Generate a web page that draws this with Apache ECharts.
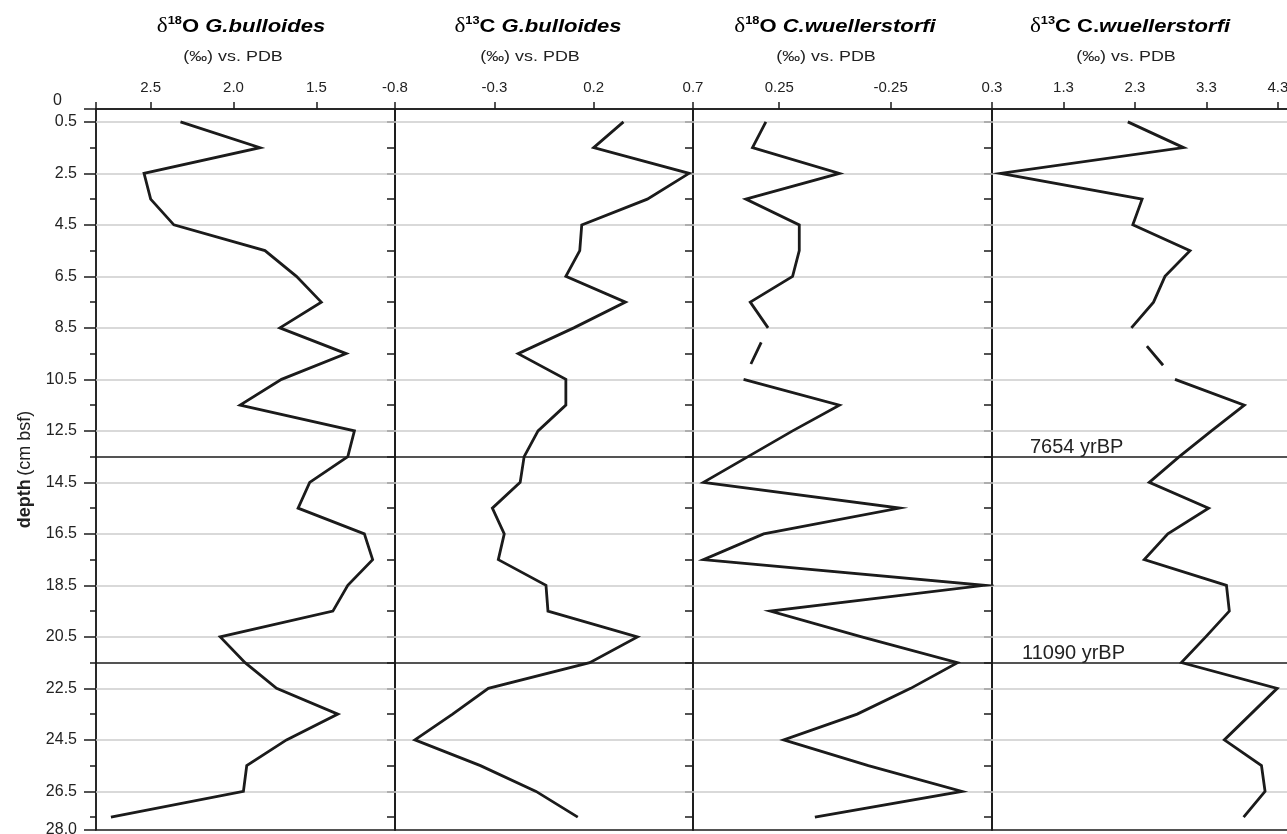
<!DOCTYPE html>
<html>
<head>
<meta charset="utf-8">
<script src="https://cdn.jsdelivr.net/npm/echarts@6/dist/echarts.min.js"></script>
<style>
  html, body { margin: 0; padding: 0; background: #ffffff; }
  #chart { width: 1287px; height: 834px; }
</style>
</head>
<body>
<div id="chart"></div>
<script>
// Sample depths (cm below sea floor)
const depths = [0.5, 1.5, 2.5, 3.5, 4.5, 5.5, 6.5, 7.5, 8.5, 9.5, 10.5, 11.5, 12.5, 13.5,
                14.5, 15.5, 16.5, 17.5, 18.5, 19.5, 20.5, 21.5, 22.5, 23.5, 24.5, 25.5, 26.5, 27.5];

// Isotope records (‰ vs. PDB); null = no measurement
const d18O_bulloides = [2.32, 1.84, 2.54, 2.50, 2.36, 1.81, 1.62, 1.47, 1.72, 1.32, 1.71, 1.96, 1.27, 1.31,
                        1.54, 1.61, 1.21, 1.16, 1.31, 1.40, 2.08, 1.93, 1.74, 1.37, 1.68, 1.92, 1.94, 2.74];
const d13C_bulloides = [0.35, 0.20, 0.68, 0.47, 0.14, 0.13, 0.06, 0.36, 0.10, -0.18, 0.06, 0.06, -0.08, -0.15,
                        -0.17, -0.31, -0.25, -0.28, -0.04, -0.03, 0.42, 0.18, -0.33, -0.51, -0.70, -0.37, -0.09, 0.12];
const d18O_wuellerstorfi = [0.31, 0.37, -0.02, 0.40, 0.16, 0.16, 0.19, 0.38, 0.30, null, 0.41, -0.02, 0.19, 0.39,
                            0.59, -0.29, 0.32, 0.59, -0.67, 0.29, -0.12, -0.55, -0.34, -0.10, 0.23, -0.15, -0.57, 0.09];
const d13C_wuellerstorfi = [2.20, 2.98, 0.42, 2.40, 2.27, 3.07, 2.72, 2.56, 2.25, null, 2.86, 3.83, 3.37, 2.92,
                            2.50, 3.33, 2.76, 2.43, 3.58, 3.62, 3.29, 2.95, 4.29, 3.92, 3.55, 4.07, 4.12, 3.82];

// Depth axis labels and ticks
const depthTop = [0];
const depthLabels = [0.5, 2.5, 4.5, 6.5, 8.5, 10.5, 12.5, 14.5, 16.5, 18.5, 20.5, 22.5, 24.5, 26.5, 28];
const depthMinorTicks = [1.5, 3.5, 5.5, 7.5, 9.5, 11.5, 13.5, 15.5, 17.5, 19.5, 21.5, 23.5, 25.5, 27.5];
const gridDepths = [0.5, 2.5, 4.5, 6.5, 8.5, 10.5, 12.5, 14.5, 16.5, 18.5, 20.5, 22.5, 24.5, 26.5];

// Dated horizons
const horizonDepths = [13.5, 21.5];
const horizonLabels = ['7654 yrBP', '11090 yrBP'];

// Isotope axis tick labels
const ticksO18bull = [2.5, 2.0, 1.5];
const ticksC13bull = [-0.8, -0.3, 0.2, 0.7];
const ticksO18wuel = [0.25, -0.25];
const ticksC13wuel = [0.3, 1.3, 2.3, 3.3, 4.3];

const FONT = 'Liberation Sans, Arial, sans-serif';
const INK = '#1b1b1b';

// Panel layout (pixels) and axis ranges
const panels = [
  { values: d18O_bulloides, left: 96, right: 395, min: 1.025, max: 2.83, inverse: true, ticks: ticksO18bull, dec: 1,
    title: '{d|δ}{s|18}{b|O }{i|G.bulloides}', titleX: 241, subX: 233, dash: null },
  { values: d13C_bulloides, left: 395, right: 693, min: -0.8, max: 0.7, inverse: false, ticks: ticksC13bull, dec: 1,
    title: '{d|δ}{s|13}{b|C }{i|G.bulloides}', titleX: 538, subX: 530, dash: null },
  { values: d18O_wuellerstorfi, left: 693, right: 992, min: -0.705, max: 0.637, inverse: true, ticks: ticksO18wuel, dec: 2,
    title: '{d|δ}{s|18}{b|O }{i|C.wuellerstorfi}', titleX: 835, subX: 826, dash: [0, 16, 24, 200] },
  { values: d13C_wuellerstorfi, left: 992, right: 1289, min: 0.3, max: 4.455, inverse: false, ticks: ticksC13wuel, dec: 1,
    title: '{d|δ}{s|13}{b|C C.}{i|wuellerstorfi}', titleX: 1130, subX: 1126, dash: [0, 24, 25, 200] }
];

const TOP = 109, BOTTOM = 4;

const grids = panels.map(p => ({
  left: p.left, width: p.right - p.left, top: TOP, bottom: BOTTOM,
  show: true, borderColor: INK, borderWidth: 1.5, backgroundColor: 'transparent',
  outerBoundsMode: 'none'
}));

const xAxes = panels.map((p, i) => ({
  type: 'value', gridIndex: i, position: 'top',
  min: p.min, max: p.max, inverse: p.inverse,
  axisLine: { show: true, onZero: false, lineStyle: { color: INK, width: 1.5 } },
  axisTick: { show: true, inside: false, length: 7, lineStyle: { color: INK, width: 1.5 },
              customValues: [p.inverse ? p.max : p.min].concat(p.ticks) },
  axisLabel: { show: true, customValues: p.ticks, margin: 14, color: '#222', fontFamily: FONT, fontSize: 15,
               hideOverlap: false, formatter: v => Number(v).toFixed(p.dec) },
  splitLine: { show: false }
}));

const yAxes = panels.map((p, i) => ({
  type: 'value', gridIndex: i, position: 'left', min: 0, max: 28, inverse: true,
  axisLine: { show: true, onZero: false, lineStyle: { color: INK, width: 1.5 } },
  axisTick: i === 0
    ? { show: true, inside: false, length: 12, lineStyle: { color: INK, width: 1.5 }, customValues: depthTop.concat(depthLabels) }
    : { show: true, inside: false, length: 8, lineStyle: { color: INK, width: 1.5 }, customValues: depths },
  axisLabel: i === 0
    ? { show: true, customValues: depthLabels, margin: 19, color: '#222', fontFamily: FONT, fontSize: 16,
        hideOverlap: false, showMinLabel: true, showMaxLabel: true,
        formatter: v => Number(v).toFixed(1) }
    : { show: false },
  splitLine: { show: false },
  name: i === 0 ? '{b|depth} {n|(cm bsf)}' : '',
  nameLocation: 'middle', nameRotate: 90, nameGap: 62,
  nameTextStyle: {
    rich: {
      b: { fontFamily: FONT, fontSize: 18, fontWeight: 'bold', color: '#222' },
      n: { fontFamily: FONT, fontSize: 18, color: '#222' }
    }
  }
}));
// Minor depth ticks and the surface label on the first panel
yAxes.push({
  type: 'value', gridIndex: 0, position: 'left', min: 0, max: 28, inverse: true,
  axisLine: { show: false, onZero: false },
  axisTick: { show: true, inside: false, length: 6, lineStyle: { color: INK, width: 1.5 }, customValues: depthMinorTicks },
  axisLabel: { show: true, customValues: depthTop, margin: 34, color: '#222', fontFamily: FONT, fontSize: 16,
               verticalAlign: 'bottom', hideOverlap: false, showMinLabel: true, formatter: v => String(v) },
  splitLine: { show: false }
});

const horizonLabelShift = [38, 30];

const series = [];
panels.forEach((p, i) => {
  const data = depths.map((d, k) => [p.values[k] === null ? '-' : p.values[k], d]);
  const marks = gridDepths.map(d => ({
    yAxis: d, lineStyle: { color: '#cdcdcd', width: 1.6, type: 'solid' }, label: { show: false }
  })).concat(horizonDepths.map((d, h) => ({
    yAxis: d, lineStyle: { color: INK, width: 1.5, type: 'solid' },
    label: i === 3
      ? { show: true, formatter: horizonLabels[h], position: 'insideStartTop', distance: [horizonLabelShift[h], -1],
          color: '#222', fontFamily: FONT, fontSize: 20 }
      : { show: false }
  })));
  series.push({
    type: 'line', xAxisIndex: i, yAxisIndex: i, data: data,
    symbol: 'none', showSymbol: false, connectNulls: false, z: 3,
    lineStyle: { color: INK, width: 2.8, join: 'miter' },
    animation: false, silent: true,
    markLine: { silent: true, symbol: ['none', 'none'], z: 1, animation: false, data: marks }
  });
  // Dashed bridge across a missing sample
  const gap = p.values.indexOf(null);
  if (gap > 0 && p.dash) {
    series.push({
      type: 'line', xAxisIndex: i, yAxisIndex: i,
      data: [[p.values[gap - 1], depths[gap - 1]], [p.values[gap + 1], depths[gap + 1]]],
      symbol: 'none', showSymbol: false, z: 3, animation: false, silent: true,
      lineStyle: { color: INK, width: 2.8, type: p.dash }
    });
  }
});

const titleRich = {
  d: { fontFamily: 'Liberation Serif, serif', fontSize: 20, color: '#222', lineHeight: 24 },
  s: { fontFamily: FONT, fontSize: 11, fontWeight: 'bold', color: '#222', verticalAlign: 'top', lineHeight: 12 },
  b: { fontFamily: FONT, fontSize: 19, fontWeight: 'bold', color: '#222', lineHeight: 24 },
  i: { fontFamily: FONT, fontSize: 19, fontWeight: 'bold', fontStyle: 'italic', color: '#222', lineHeight: 24 }
};

const graphics = [];
panels.forEach(p => {
  graphics.push({
    type: 'text', x: p.titleX, y: 27, scaleX: 1.16, silent: true,
    style: { text: p.title, rich: titleRich, align: 'center', verticalAlign: 'middle' }
  });
  graphics.push({
    type: 'text', x: p.subX, y: 57, scaleX: 1.28, silent: true,
    style: { text: '(‰) vs. PDB', fontFamily: FONT, fontSize: 14, fill: '#222', align: 'center', verticalAlign: 'middle' }
  });
});

const chart = echarts.init(document.getElementById('chart'), null, { renderer: 'canvas' });
chart.setOption({
  backgroundColor: '#ffffff',
  animation: false,
  grid: grids,
  xAxis: xAxes,
  yAxis: yAxes,
  series: series,
  graphic: graphics
});
</script>
</body>
</html>
